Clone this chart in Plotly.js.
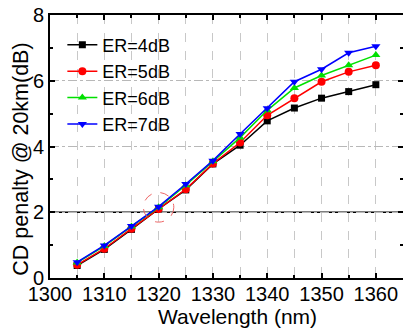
<!DOCTYPE html>
<html>
<head>
<meta charset="utf-8">
<script src="https://cdn.plot.ly/plotly-3.0.1.min.js"></script>
<style>html,body{margin:0;padding:0;background:#fff;}#chart{width:403px;height:331px;}</style>
</head>
<body>
<div id="chart"></div>
<script>
const wavelength = [1305, 1310, 1315, 1320, 1325, 1330, 1335, 1340, 1345, 1350, 1355, 1360];
const er4dB = [0.38, 0.87, 1.48, 2.10, 2.68, 3.47, 4.04, 4.78, 5.17, 5.47, 5.67, 5.88];
const er5dB = [0.40, 0.89, 1.50, 2.10, 2.70, 3.48, 4.12, 4.95, 5.47, 5.97, 6.27, 6.47];
const er6dB = [0.47, 0.97, 1.57, 2.15, 2.82, 3.55, 4.27, 5.10, 5.78, 6.16, 6.47, 6.78];
const er7dB = [0.48, 0.99, 1.58, 2.17, 2.86, 3.57, 4.38, 5.16, 5.97, 6.35, 6.85, 7.05];
const seriesNames = ['ER=4dB', 'ER=5dB', 'ER=6dB', 'ER=7dB'];
const xTickVals = [1300, 1310, 1320, 1330, 1340, 1350, 1360];
const yTickVals = [0, 2, 4, 6, 8];
const xTitle = 'Wavelength (nm)';
const yTitle = 'CD penalty @ 20km(dB)';

const colors = ['#000000', '#ff0000', '#00e000', '#0000ff'];
const symbols = ['square', 'circle', 'triangle-up', 'triangle-down'];
const sizes = [7, 8, 8, 8];
const ys = [er4dB, er5dB, er6dB, er7dB];

const traces = ys.map((y, i) => ({
  x: wavelength, y: y, name: seriesNames[i], type: 'scatter', mode: 'lines+markers',
  line: {color: colors[i], width: 1.5},
  marker: {color: colors[i], symbol: symbols[i], size: sizes[i]}
}));

const font = 'Arial, "Liberation Sans", sans-serif';
const layout = {
  width: 403, height: 331,
  margin: {l: 50, r: 0, t: 15, b: 53},
  paper_bgcolor: '#fff', plot_bgcolor: '#fff',
  font: {family: font, color: '#000', size: 19},
  showlegend: true,
  legend: {x: 0.035, y: 0.956, xanchor: 'left', yanchor: 'top', bgcolor: 'rgba(0,0,0,0)',
           font: {family: font, size: 18, color: '#000'}, tracegroupgap: 0},
  xaxis: {
    range: [1300, 1365], tickvals: xTickVals, ticks: 'inside', ticklen: 5, tickwidth: 2,
    tickcolor: '#000', showline: true, linecolor: '#000', linewidth: 2, mirror: 'allticks',
    showgrid: true, gridcolor: '#c8c8c8', griddash: 'dash', gridwidth: 1, zeroline: false,
    tickfont: {size: 20, family: font, color: '#000'}, ticklabelstandoff: -3,
    minor: {dtick: 5, tick0: 1300, ticks: 'inside', ticklen: 3, tickwidth: 2, tickcolor: '#000',
            showgrid: true, gridcolor: '#c8c8c8', griddash: 'dash', gridwidth: 1}
  },
  yaxis: {
    range: [0, 8], tickvals: yTickVals, ticks: 'inside', ticklen: 5, tickwidth: 2,
    tickcolor: '#000', showline: true, linecolor: '#000', linewidth: 2, mirror: 'allticks',
    showgrid: true, gridcolor: '#b8b8b8', griddash: 'dashdot', gridwidth: 1, zeroline: false,
    tickfont: {size: 20, family: font, color: '#000'},
    minor: {dtick: 1, tick0: 0, ticks: 'inside', ticklen: 3, tickwidth: 2, tickcolor: '#000', showgrid: false}
  },
  annotations: [
    {text: xTitle, xref: 'paper', yref: 'paper', x: 0.53, y: -0.146, xanchor: 'center', yanchor: 'middle',
     showarrow: false, font: {size: 21, family: font, color: '#000'}},
    {text: yTitle, xref: 'paper', yref: 'paper', x: -0.082, y: 0.45, xanchor: 'center', yanchor: 'middle',
     textangle: -90, showarrow: false, font: {size: 21.5, family: font, color: '#000'}}
  ],
  shapes: [
    {type: 'line', xref: 'paper', yref: 'y', x0: 0, x1: 1, y0: 2, y1: 2, line: {color: '#000', width: 1.5}, layer: 'below'},
    {type: 'circle', xref: 'x', yref: 'y', x0: 1317.2, x1: 1322.8, y0: 1.7, y1: 2.6, line: {color: '#ee6666', width: 1, dash: 'dash'}}
  ]
};

Plotly.newPlot('chart', traces, layout, {staticPlot: true, displayModeBar: false});
</script>
</body>
</html>
